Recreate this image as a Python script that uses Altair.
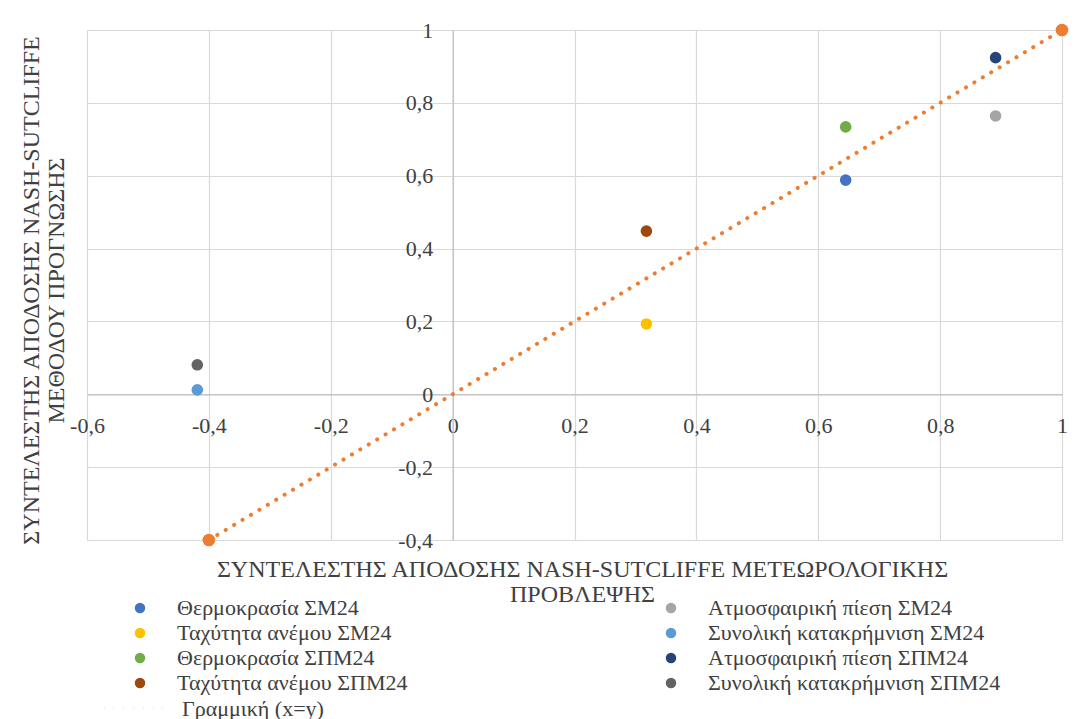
import altair as alt
import pandas as pd

# ---- data ----
series_names = [
    "Θερμοκρασία ΣΜ24",
    "Ταχύτητα ανέμου ΣΜ24",
    "Θερμοκρασία ΣΠΜ24",
    "Ταχύτητα ανέμου ΣΠΜ24",
    "Ατμοσφαιρική πίεση ΣΜ24",
    "Συνολική κατακρήμνιση ΣΜ24",
    "Ατμοσφαιρική πίεση ΣΠΜ24",
    "Συνολική κατακρήμνιση ΣΠΜ24",
]
x_values = [0.645, 0.318, 0.645, 0.318, 0.891, -0.419, 0.891, -0.419]
y_values = [0.588, 0.193, 0.734, 0.448, 0.764, 0.012, 0.924, 0.081]
series_colors = ["#4472C4", "#FFC000", "#70AD47", "#9E480E",
                 "#A5A5A5", "#5B9BD5", "#264478", "#636363"]

line_name = "Γραμμική (x=y)"
line_x = [-0.4, 1.0]
line_y = [-0.4, 1.0]
line_color = "#ED7D31"

x_ticks = [-0.6, -0.4, -0.2, 0, 0.2, 0.4, 0.6, 0.8, 1]
y_ticks = [-0.4, -0.2, 0, 0.2, 0.4, 0.6, 0.8, 1]

x_title = ["ΣΥΝΤΕΛΕΣΤΗΣ ΑΠΟΔΟΣΗΣ NASH-SUTCLIFFE ΜΕΤΕΩΡΟΛΟΓΙΚΗΣ", "ΠΡΟΒΛΕΨΗΣ"]
y_title = ["ΣΥΝΤΕΛΕΣΤΗΣ ΑΠΟΔΟΣΗΣ NASH-SUTCLIFFE", "ΜΕΘΟΔΟΥ ΠΡΟΓΝΩΣΗΣ"]

points = pd.DataFrame({"series": series_names, "x": x_values, "y": y_values})
line_df = pd.DataFrame({"name": [line_name] * len(line_x), "x": line_x, "y": line_y})

FONT = "'Liberation Serif', 'Times New Roman', 'DejaVu Serif', serif"
TEXT = "#404040"
W, H = 975, 510
X0_PX = W * (0 - (-0.6)) / 1.6          # pixel of x = 0
Y0_PX = H * (1 - 0) / 1.4              # pixel of y = 0
LABEL_EXPR = "replace(toString(datum.value), '.', ',')"

x_enc = alt.X(
    "x:Q",
    scale=alt.Scale(domain=[-0.6, 1], nice=False, zero=False),
    axis=alt.Axis(
        values=x_ticks, orient="bottom", offset=-(H - Y0_PX),
        labelExpr=LABEL_EXPR, ticks=False, labelFlush=False, labelOverlap=False,
        labelBaseline="alphabetic", labelPadding=38,
        title=x_title, titleX=495, titleY=182, titleAlign="center",
        titleBaseline="alphabetic", titleLineHeight=25.5, titleAnchor="middle",
    ),
)
y_enc = alt.Y(
    "y:Q",
    scale=alt.Scale(domain=[-0.4, 1], nice=False, zero=False),
    axis=alt.Axis(
        values=y_ticks, orient="left", offset=-X0_PX,
        labelExpr=LABEL_EXPR, ticks=False, labelFlush=False, labelOverlap=False,
        labelBaseline="middle", labelPadding=20,
        title=y_title, titleX=-(X0_PX + 49), titleY=260, titleAngle=270,
        titleAlign="center", titleBaseline="alphabetic", titleLineHeight=25.5,
        titleAnchor="middle",
    ),
)

line = alt.Chart(line_df).mark_line(
    color=line_color, strokeWidth=4, strokeCap="round"
).encode(
    x=x_enc, y=y_enc,
    strokeDash=alt.StrokeDash(
        "name:N",
        scale=alt.Scale(domain=[line_name], range=[[0.1, 9.7]]),
        legend=alt.Legend(
            title=None, orient="none", legendX=15, legendY=645,
            symbolType="stroke", symbolSize=3969, symbolStrokeWidth=4,
            symbolStrokeColor=line_color, symbolOpacity=1, symbolDash=[4, 6.5],
            labelFont=FONT, labelFontSize=22, labelColor=TEXT, labelOffset=13,
        ),
    ),
)

ends = alt.Chart(line_df).mark_circle(size=160, opacity=1, color=line_color).encode(
    x=x_enc, y=y_enc
)

dots = alt.Chart(points).mark_circle(size=135, opacity=1).encode(
    x=x_enc, y=y_enc,
    color=alt.Color(
        "series:N",
        scale=alt.Scale(domain=series_names, range=series_colors),
        legend=alt.Legend(
            title=None, orient="none", legendX=42, legendY=567, columns=2,
            symbolType="circle", symbolSize=110, symbolStrokeWidth=0,
            symbolOpacity=1,
            labelFont=FONT, labelFontSize=22, labelColor=TEXT, labelOffset=26,
            rowPadding=3, columnPadding=252, labelLimit=400,
        ),
    ),
)

chart = (
    alt.layer(line, ends, dots)
    .resolve_legend(color="independent", strokeDash="independent")
    .properties(
        width=W, height=H,
        padding={"left": 87, "top": 30, "right": 16, "bottom": 179},
        autosize=alt.AutoSizeParams(type="none"),
        background="white",
    )
    .configure_view(stroke=None)
    .configure_axis(
        grid=True, gridColor="#D9D9D9", gridWidth=1.2,
        domain=True, domainColor="#BFBFBF", domainWidth=1.2,
        labelFont=FONT, labelFontSize=22, labelColor=TEXT,
        titleFont=FONT, titleFontSize=24, titleColor=TEXT, titleFontWeight="normal",
    )
)

chart.save("out.html", embed_options={"renderer": "svg", "actions": False})
